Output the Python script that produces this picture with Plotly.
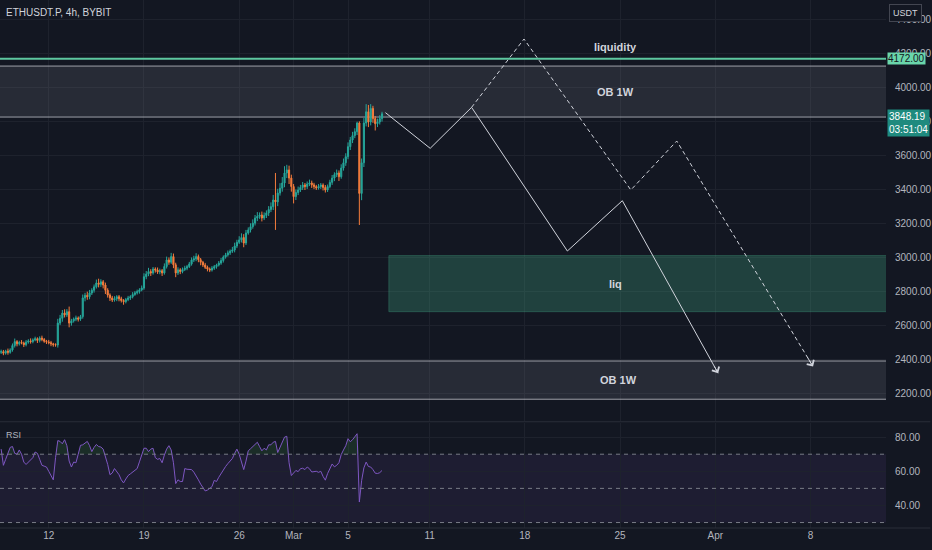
import pandas as pd
import plotly.graph_objects as go

BG = "#131722"
GRID = "#1e222d"
AXIS_TXT = "#b2b5be"
FONT = "Liberation Sans Narrow, Liberation Sans, sans-serif"

# 4h bars, ETHUSDT.P (BYBIT)
bar_start = "2024-02-08 12:00"
first_open = 2445

closes = [
    2449, 2440, 2452, 2445, 2459, 2485, 2508, 2495, 2503, 2500, 2490, 2505,
    2512, 2508, 2518, 2525, 2515, 2529, 2520, 2510, 2506, 2502, 2495, 2490,
    2488, 2617, 2645, 2676, 2665, 2684, 2617, 2630, 2640, 2647, 2640, 2655,
    2765, 2780, 2772, 2794, 2810, 2830, 2853, 2845, 2860, 2841, 2810, 2782,
    2765, 2753, 2760, 2772, 2760, 2750, 2743, 2755, 2765, 2772, 2785, 2795,
    2802, 2812, 2823, 2890, 2905, 2920, 2912, 2935, 2929, 2918, 2925, 2912,
    2950, 2988, 2975, 3008, 2960, 2912, 2930, 2920, 2932, 2940, 2949, 2965,
    2988, 2995, 3008, 2990, 2975, 2959, 2945, 2935, 2929, 2940, 2949, 2958,
    2970, 2985, 3005, 3018, 3030, 3040, 3047, 3070, 3092, 3106, 3120, 3088,
    3147, 3165, 3184, 3205, 3235, 3245, 3253, 3235, 3250, 3265, 3285, 3302,
    3341, 3330, 3382, 3410, 3441, 3500, 3518, 3470, 3420, 3361, 3385, 3400,
    3415, 3429, 3420, 3435, 3441, 3430, 3420, 3412, 3420, 3429, 3415, 3400,
    3420, 3445, 3470, 3490, 3500, 3478, 3529, 3560, 3596, 3655, 3694, 3720,
    3743, 3794, 3380, 3560, 3794, 3860, 3800, 3880, 3820, 3790, 3800, 3820, 3848,
]

wick_up = [
    12, 10, 8, 15, 10, 12, 18, 9, 10, 14, 8, 12,
    10, 15, 9, 12, 8, 10, 14, 9, 8, 12, 10, 6,
    8, 25, 20, 18, 22, 15, 30, 12, 10, 14, 9, 10,
    20, 15, 22, 18, 12, 14, 20, 25, 15, 10, 14, 12,
    10, 12, 15, 9, 10, 12, 8, 10, 12, 9, 14, 10,
    12, 10, 15, 20, 18, 22, 14, 12, 10, 15, 12, 10,
    18, 20, 15, 22, 18, 12, 15, 10, 12, 14, 10, 12,
    15, 18, 20, 12, 10, 8, 12, 10, 9, 12, 10, 8,
    12, 15, 10, 12, 14, 10, 18, 20, 15, 22, 25, 20,
    18, 15, 20, 22, 18, 25, 15, 20, 18, 15, 20, 25,
    30, 159, 25, 30, 35, 40, 30, 25, 20, 15, 18, 20,
    15, 18, 12, 15, 20, 14, 12, 10, 15, 12, 10, 14,
    12, 15, 18, 14, 20, 15, 22, 25, 20, 25, 18, 22,
    20, 8, 10, 25, 30, 45, 40, 25, 15, 15, 20, 20, 12,
]

wick_dn = [
    10, 12, 9, 14, 8, 10, 12, 15, 10, 8, 14, 10,
    9, 12, 10, 8, 15, 12, 10, 9, 12, 10, 14, 12,
    10, 15, 12, 20, 15, 12, 25, 15, 10, 12, 14, 10,
    12, 20, 18, 15, 12, 14, 10, 18, 15, 20, 22, 15,
    18, 12, 10, 14, 15, 12, 18, 10, 9, 12, 10, 8,
    10, 12, 8, 10, 15, 12, 18, 10, 15, 12, 14, 18,
    10, 12, 15, 10, 20, 25, 12, 15, 10, 9, 12, 8,
    10, 12, 14, 15, 18, 12, 10, 14, 12, 9, 10, 12,
    8, 10, 12, 9, 10, 12, 10, 14, 12, 10, 15, 25,
    12, 10, 15, 12, 14, 18, 15, 20, 12, 15, 18, 15,
    20, 165, 25, 15, 20, 25, 30, 35, 30, 40, 20, 15,
    12, 15, 20, 14, 12, 18, 15, 12, 10, 14, 18, 15,
    12, 10, 15, 18, 14, 25, 12, 15, 18, 15, 20, 18,
    15, 20, 186, 40, 25, 20, 30, 20, 25, 40, 20, 15, 18,
]

rsi = [
    73, 63.5, 67, 71, 74, 74.5, 70.5, 70, 72.5, 70, 65.4, 64,
    65.5, 66.5, 68, 71.3, 70.5, 67, 63.5, 63, 62.5, 60, 57, 55,
    68, 78, 77.5, 76.1, 78.5, 75, 66, 62.5, 65.4, 65, 70, 75.2,
    75.5, 76.5, 77.5, 75, 71.5, 74, 75.7, 74.5, 74.2, 73, 69, 64,
    58, 59, 61.6, 60, 58, 55, 53.2, 55.5, 57.5, 58.5, 59.6, 60.5,
    61.6, 65.5, 69, 73.5, 73.5, 71.5, 73, 73.5, 68, 67, 67.5, 65,
    69.5, 73, 75, 72.5, 65, 52.8, 55, 54, 54, 61.6, 61.2, 61,
    61, 59.5, 57.5, 55, 52.5, 50.8, 48.5, 49, 50, 51, 54.7, 54,
    56.5, 58.8, 61, 62.8, 64.5, 66.2, 67.5, 70.5, 73, 70, 65.5, 61,
    66, 72, 73.2, 74.5, 76, 77, 74.5, 72, 73.5, 72.5, 75.5, 75.5,
    77, 77.5, 71, 74, 77.5, 80, 80.5, 65, 57.5, 59, 60.5, 59.8,
    61.5, 61.8, 61, 62.5, 61.5, 59.6, 59.8, 60, 59.4, 60, 57, 54.8,
    58.7, 62, 64.3, 62.6, 63.5, 65, 69.8, 72.5, 75, 79.1, 77.3, 78.5,
    80.5, 82, 42, 54.5, 62, 65.4, 62.8, 62.5, 61, 58.9, 58.7, 59.2, 60.5,
]

# drawings
liquidity_level = 4172.00
last_price = 3848.19
countdown = "03:51:04"
ob_top = [3829, 4129]
ob_bottom = [2169, 2394]
liq_zone_start = "2024-03-08 00:00"
liq_zone = [2684, 3014]

solid_path_t = ["2024-03-07 18:00", "2024-03-11 01:00", "2024-03-14 02:00",
                "2024-03-21 03:00", "2024-03-25 04:00", "2024-04-01 05:00"]
solid_path_p = [3855, 3645, 3886, 3041, 3337, 2322]
dashed_path_t = ["2024-03-14 02:00", "2024-03-17 22:30", "2024-03-25 19:00",
                 "2024-03-29 04:00", "2024-04-08 04:30"]
dashed_path_p = [3886, 4288, 3400, 3688, 2361]

price_ticks = [2200, 2400, 2600, 2800, 3000, 3200, 3400, 3600, 3800, 4000, 4200, 4400]
rsi_ticks = [40, 60, 80]
rsi_levels = [70, 50, 30]
date_ticks = ["2024-02-12", "2024-02-19", "2024-02-26", "2024-03-01", "2024-03-05",
              "2024-03-11", "2024-03-18", "2024-03-25", "2024-04-01", "2024-04-08"]
date_labels = ["12", "19", "26", "Mar", "5", "11", "18", "25", "Apr", "8"]

x_range = ["2024-02-08 10:00", "2024-04-13 13:10"]
far_left, far_right = "2024-02-01", "2024-04-30"

# build OHLC
times = pd.date_range(bar_start, periods=len(closes), freq="4h")
opens = [first_open] + closes[:-1]
highs = [max(o, c) + u for o, c, u in zip(opens, closes, wick_up)]
lows = [min(o, c) - d for o, c, d in zip(opens, closes, wick_dn)]

fig = go.Figure()

fig.add_trace(go.Candlestick(
    x=times, open=opens, high=highs, low=lows, close=closes,
    increasing=dict(line=dict(color="#26a69a", width=1), fillcolor="#26a69a"),
    decreasing=dict(line=dict(color="#f57c3c", width=1), fillcolor="#f57c3c"),
    whiskerwidth=0, xaxis="x", yaxis="y", hoverinfo="skip",
))

# forecast paths
fig.add_trace(go.Scatter(x=solid_path_t, y=solid_path_p, mode="lines",
                         line=dict(color="#d1d4dc", width=1), xaxis="x", yaxis="y"))
fig.add_trace(go.Scatter(x=dashed_path_t, y=dashed_path_p, mode="lines",
                         line=dict(color="#d1d4dc", width=1, dash="4px,3px"),
                         xaxis="x", yaxis="y"))

# RSI with overbought fill
fig.add_trace(go.Scatter(x=times, y=[70] * len(rsi), mode="lines", line=dict(width=0),
                         xaxis="x2", yaxis="y2", hoverinfo="skip"))
fig.add_trace(go.Scatter(x=times, y=[max(v, 70) for v in rsi], mode="lines",
                         line=dict(width=0), fill="tonexty",
                         fillcolor="rgba(76,175,80,0.15)", xaxis="x2", yaxis="y2"))
fig.add_trace(go.Scatter(x=times, y=rsi, mode="lines",
                         line=dict(color="#7e57c2", width=1), xaxis="x2", yaxis="y2"))

shapes = []
# OB boxes (run past both edges of the pane)
for lo, hi in (ob_top, ob_bottom):
    shapes.append(dict(type="rect", xref="x", yref="y", x0=far_left, x1=far_right, y0=lo, y1=hi,
                       fillcolor="rgba(120,123,134,0.2)",
                       line=dict(color="rgba(200,202,210,0.75)", width=1), layer="between"))
# liquidity zone
shapes.append(dict(type="rect", xref="x", yref="y", x0=liq_zone_start, x1=far_right,
                   y0=liq_zone[0], y1=liq_zone[1], fillcolor="rgba(70,180,140,0.27)",
                   line=dict(color="rgba(70,180,140,0.3)", width=1), layer="between"))
# liquidity line
shapes.append(dict(type="line", xref="paper", yref="y", x0=0, x1=1,
                   y0=liquidity_level, y1=liquidity_level,
                   line=dict(color="#5ec8a0", width=2)))
# RSI band and levels
shapes.append(dict(type="rect", xref="paper", yref="y2", x0=0, x1=1, y0=30, y1=70,
                   fillcolor="rgba(126,87,194,0.1)", line=dict(width=0), layer="between"))
for lv in rsi_levels:
    shapes.append(dict(type="line", xref="paper", yref="y2", x0=0, x1=1, y0=lv, y1=lv,
                       line=dict(color="#787b86", width=1, dash="4px,4px")))
# pane separators
shapes.append(dict(type="line", xref="paper", yref="paper", x0=0, x1=1.05, y0=0.2012, y1=0.2012,
                   line=dict(color="#2a2e39", width=1)))
shapes.append(dict(type="line", xref="paper", yref="paper", x0=0, x1=1.05, y0=0, y1=0,
                   line=dict(color="#2a2e39", width=1)))

label_font = dict(family=FONT, size=11, color="#d1d4dc")
mid_t = "2024-03-24 16:00"
annotations = [
    dict(text="<b>liquidity</b>", x=mid_t, y=4243, xref="x", yref="y", showarrow=False, font=label_font),
    dict(text="<b>OB 1W</b>", x=mid_t, y=sum(ob_top) / 2, xref="x", yref="y", showarrow=False, font=label_font),
    dict(text="<b>liq</b>", x=mid_t, y=sum(liq_zone) / 2, xref="x", yref="y", showarrow=False, font=label_font),
    dict(text="<b>OB 1W</b>", x="2024-03-24 22:00", y=sum(ob_bottom) / 2, xref="x", yref="y",
         showarrow=False, font=label_font),
    dict(text="ETHUSDT.P, 4h, BYBIT", x=0, y=1, xref="paper", yref="paper", xanchor="left",
         yanchor="top", xshift=4, yshift=-5, showarrow=False,
         font=dict(family=FONT, size=10, color="#d1d4dc")),
    dict(text="RSI", x=0, y=1, xref="paper", yref="y2 domain", xanchor="left",
         yanchor="top", xshift=4, yshift=-5, showarrow=False,
         font=dict(family=FONT, size=9, color=AXIS_TXT)),
    dict(text=f"{liquidity_level:.2f}", x=1, y=liquidity_level, xref="paper", yref="y",
         xanchor="left", xshift=1, showarrow=False, bgcolor="#6ad6ab", borderpad=0,
         font=dict(family=FONT, size=10, color="#131722")),
    dict(text=f"{last_price:.2f}<br>{countdown}", x=1, y=last_price, xref="paper", yref="y",
         xanchor="left", yanchor="top", xshift=1, yshift=5, showarrow=False,
         bgcolor="#1f8a7e", borderpad=1, align="left",
         font=dict(family=FONT, size=10, color="#ffffff")),
    dict(text="USDT", x=1, y=1, xref="paper", yref="paper", xanchor="left", yanchor="top",
         xshift=3, yshift=-4, showarrow=False, bgcolor=BG, bordercolor="#434651",
         borderwidth=1, borderpad=3, font=dict(family=FONT, size=9, color="#d1d4dc")),
]

# open chevron arrowheads at the ends of the paths
for pt, pp in ((solid_path_t, solid_path_p), (dashed_path_t, dashed_path_p)):
    t1, t0 = pd.Timestamp(pt[-1]), pd.Timestamp(pt[-2])
    tail_t = t1 + (t0 - t1) * 0.05
    tail_p = pp[-1] + (pp[-2] - pp[-1]) * 0.05
    annotations.append(dict(x=t1, y=pp[-1], ax=tail_t, ay=tail_p, xref="x", yref="y",
                            axref="x", ayref="y", text="", showarrow=True, arrowhead=4,
                            arrowsize=1.6, arrowwidth=1, arrowcolor="#d1d4dc"))

fig.update_layout(
    width=932, height=550,
    margin=dict(l=0, r=41, t=0, b=22),
    paper_bgcolor=BG, plot_bgcolor=BG,
    showlegend=False, hovermode=False,
    font=dict(family=FONT, size=10, color=AXIS_TXT),
    shapes=shapes, annotations=annotations,
    xaxis=dict(domain=[0, 1], anchor="y", type="date", range=x_range,
               rangeslider=dict(visible=False), showticklabels=False,
               tickvals=date_ticks, showgrid=True, gridcolor=GRID, zeroline=False,
               showline=False),
    xaxis2=dict(domain=[0, 1], anchor="y2", type="date", range=x_range, matches="x",
                tickvals=date_ticks, ticktext=date_labels, showgrid=True, gridcolor=GRID,
                tickfont=dict(family=FONT, size=10, color=AXIS_TXT), ticks="",
                zeroline=False, showline=False),
    yaxis=dict(domain=[0.2027, 1], anchor="x", side="right", range=[2041.1, 4517.6],
               tickvals=price_ticks, ticktext=[f"{v:.2f}" for v in price_ticks],
               showgrid=True, gridcolor=GRID, zeroline=False, ticks="",
               ticklabelstandoff=8, tickfont=dict(family=FONT, size=10, color=AXIS_TXT)),
    yaxis2=dict(domain=[0, 0.1998], anchor="x2", side="right", range=[26.8, 88.57],
                tickvals=rsi_ticks, ticktext=[f"{v:.2f}" for v in rsi_ticks],
                showgrid=True, gridcolor=GRID, zeroline=False, ticks="",
                ticklabelstandoff=8, tickfont=dict(family=FONT, size=10, color=AXIS_TXT)),
)

fig.write_html("out.html", config={"displayModeBar": False},
               post_script="document.body.style.margin='0';")
